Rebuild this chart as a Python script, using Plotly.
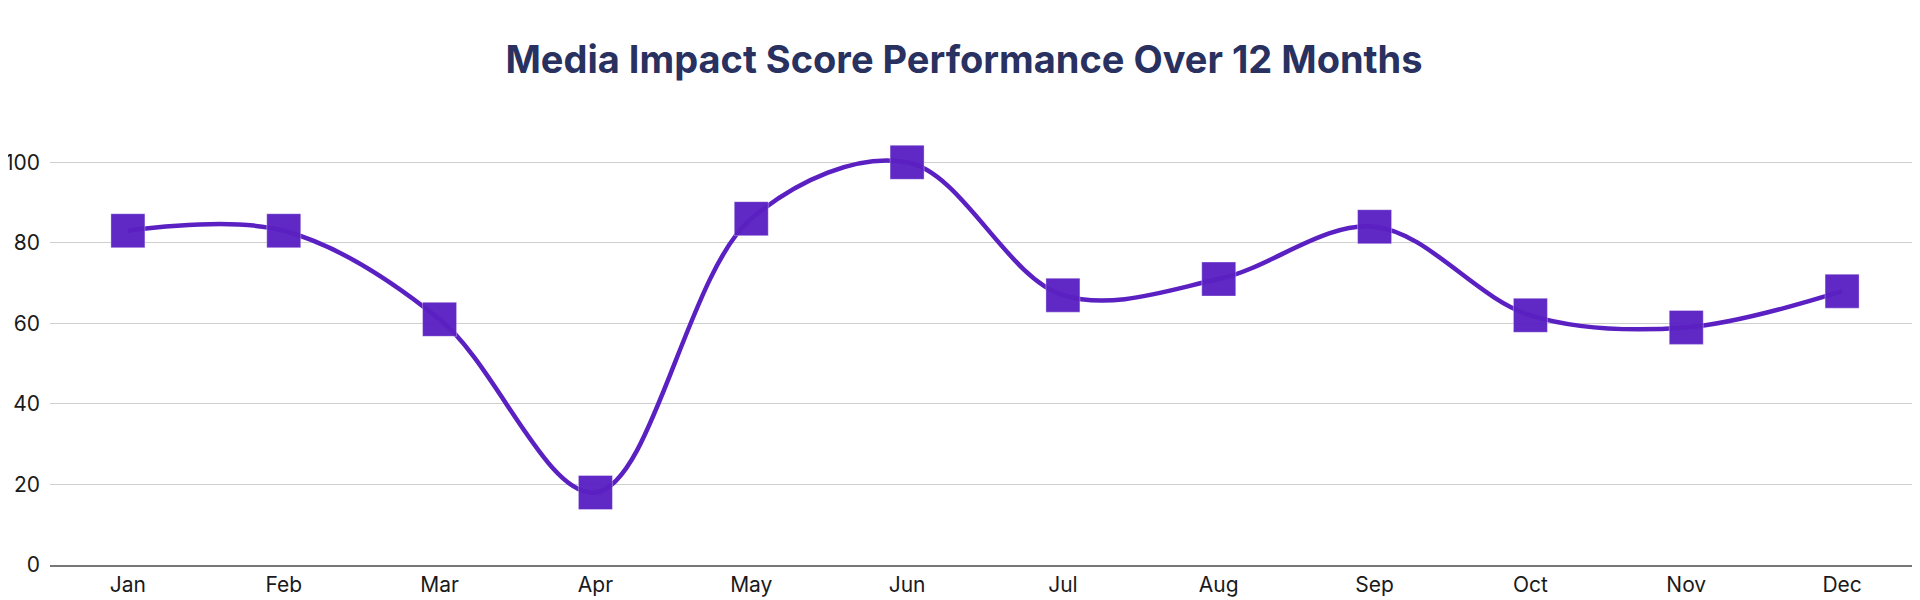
import plotly.graph_objects as go

months = ["Jan", "Feb", "Mar", "Apr", "May", "Jun", "Jul", "Aug", "Sep", "Oct", "Nov", "Dec"]
scores = [83, 83, 61, 18, 86, 100, 67, 71, 84, 62, 59, 68]
y_ticks = [0, 20, 40, 60, 80, 100]

LINE = "#5A20C2"

fig = go.Figure()
fig.add_trace(go.Scatter(
    x=months, y=scores,
    mode="lines+markers",
    line=dict(color=LINE, width=4.5, shape="spline", smoothing=1),
    marker=dict(symbol="square", size=34, color=LINE, opacity=0.96,
                line=dict(color="rgba(255,255,255,0.35)", width=1)),
    showlegend=False,
))

fig.update_layout(
    width=1912, height=592,
    paper_bgcolor="white", plot_bgcolor="white",
    margin=dict(l=42, r=0, t=114, b=35),
    font=dict(family="Inter", size=22, color="#1a1a1a"),
    title=dict(text="<b>Media Impact Score Performance Over 12 Months</b>",
               x=0.5, xanchor="center", y=0.912, yanchor="middle",
               font=dict(family="Inter", size=38, color="#283160")),
    xaxis=dict(type="category", range=[-0.5, 11.5], showgrid=False,
               showline=True, linecolor="#777777", linewidth=1.5,
               ticks="", automargin=False, tickfont=dict(size=21)),
    yaxis=dict(range=[0, 110], tickvals=y_ticks, showgrid=True,
               gridcolor="#cfcfcf", gridwidth=1, zeroline=False,
               showline=False, ticks="", automargin=False,
               tickfont=dict(size=21), ticklabelstandoff=9),
)

fig.write_html("out.html")
